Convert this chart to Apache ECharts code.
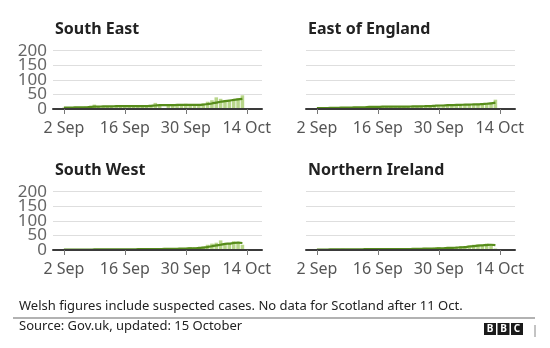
<!DOCTYPE html>
<html>
<head>
<meta charset="utf-8">
<script src="https://cdn.jsdelivr.net/npm/echarts@6/dist/echarts.min.js"></script>
<style>
  html, body { margin: 0; padding: 0; background: #fff; }
  #chart { width: 550px; height: 348px; }
</style>
</head>
<body>
<div id="chart"></div>
<script>
// Days shown on each panel's axis (data runs 2 Sep - 13 Oct)
const days = [
  '31 Aug', '1 Sep', '2 Sep', '3 Sep', '4 Sep', '5 Sep', '6 Sep', '7 Sep', '8 Sep', '9 Sep',
  '10 Sep', '11 Sep', '12 Sep', '13 Sep', '14 Sep', '15 Sep', '16 Sep', '17 Sep', '18 Sep',
  '19 Sep', '20 Sep', '21 Sep', '22 Sep', '23 Sep', '24 Sep', '25 Sep', '26 Sep', '27 Sep',
  '28 Sep', '29 Sep', '30 Sep', '1 Oct', '2 Oct', '3 Oct', '4 Oct', '5 Oct', '6 Oct', '7 Oct',
  '8 Oct', '9 Oct', '10 Oct', '11 Oct', '12 Oct', '13 Oct', '14 Oct', '15 Oct', '16 Oct', '17 Oct'
];
const tickLabels = ['2 Sep', '16 Sep', '30 Sep', '14 Oct'];
const yTicks = [0, 50, 100, 150, 200];
const regions = ['South East', 'East of England', 'South West', 'Northern Ireland'];

// Daily figures from 2 Sep to 13 Oct
const southEastDaily = [5, 6, 4, 7, 6, 8, 7, 15, 9, 8, 10, 9, 11, 10, 12, 9, 8, 10, 11, 9, 12, 21, 14, 3, 12, 13, 15, 12, 18,
  13, 11, 14, 19, 25, 30, 40, 35, 31, 30, 33, 37, 47];
const southEastAvg = [5, 5, 5, 6, 6, 6, 7, 8, 8, 9, 9, 9, 10, 10, 10, 10, 10, 10, 10, 10, 11, 12, 13, 13, 13, 13, 14, 14, 14,
  14, 14, 14, 15, 17, 19, 22, 25, 27, 29, 31, 33, 35];

const eastDaily = [3, 2, 4, 3, 4, 5, 4, 5, 6, 5, 6, 7, 8, 7, 9, 8, 7, 8, 6, 7, 9, 10, 8, 9, 11, 10, 12, 13, 12,
  14, 13, 15, 14, 16, 15, 17, 16, 18, 17, 19, 22, 32];
const eastAvg = [3, 3, 3, 4, 4, 4, 5, 5, 5, 6, 6, 6, 7, 7, 7, 8, 8, 8, 8, 8, 8, 8, 9, 9, 9, 10, 10, 11, 12,
  12, 13, 13, 14, 14, 15, 15, 16, 16, 17, 18, 19, 22];

const southWestDaily = [1, 1, 0, 1, 2, 1, 2, 1, 2, 3, 2, 2, 3, 2, 2, 3, 2, 3, 4, 3, 4, 5, 4, 5, 6, 5, 4, 6, 7,
  10, 9, 7, 12, 18, 22, 25, 33, 24, 23, 30, 28, 18];
const southWestAvg = [1, 1, 1, 1, 1, 1, 1, 2, 2, 2, 2, 2, 2, 2, 2, 2, 2, 3, 3, 3, 3, 3, 3, 4, 4, 4, 4, 5, 5,
  6, 6, 7, 8, 10, 13, 16, 18, 21, 22, 24, 25, 24];

const niDaily = [1, 1, 2, 1, 3, 2, 4, 2, 2, 3, 2, 3, 2, 3, 4, 3, 2, 3, 2, 4, 3, 5, 4, 6, 5, 7, 6, 8, 10,
  7, 8, 9, 10, 13, 11, 16, 18, 19, 17, 22, 18, 5];
const niAvg = [1, 1, 1, 2, 2, 2, 2, 2, 2, 2, 2, 3, 3, 3, 3, 3, 3, 3, 3, 3, 3, 3, 4, 4, 4, 5, 5, 5, 6,
  6, 7, 7, 8, 9, 10, 12, 13, 15, 16, 17, 18, 17, null];

const dailySets = [southEastDaily, eastDaily, southWestDaily, niDaily];
const avgSets = [southEastAvg, eastAvg, southWestAvg, niAvg];

const FONT = '"Noto Sans", "DejaVu Sans", sans-serif';
const BAR = '#b8d68a';
const LINE = '#568c1a';

// Panel layout: two columns, two rows
const cols = [53, 306];
const rows = [50.7, 191.7];
const panelW = 209, panelH = 58.3;

const offset = days.indexOf('2 Sep');
const pad = arr => new Array(offset).fill(null).concat(arr);
const isTick = (i, v) => tickLabels.indexOf(v) !== -1;
const yMin = yTicks[0], yMax = yTicks[yTicks.length - 1];
const yLabelStyle = { color: '#666', fontSize: 17, fontFamily: FONT, margin: 6 };

const grids = [], xAxes = [], yAxes = [], series = [], titles = [];
regions.forEach((name, i) => {
  const left = cols[i % 2], top = rows[Math.floor(i / 2)];
  const showLabels = i % 2 === 0;
  grids.push({ left: left, top: top, width: panelW, height: panelH });
  xAxes.push({
    type: 'category', gridIndex: i, data: days, boundaryGap: true,
    axisLine: { show: true, lineStyle: { color: '#3a3a3a', width: 2 } },
    axisTick: { show: true, alignWithLabel: true, interval: isTick, length: 5, lineStyle: { color: '#777', width: 1 } },
    axisLabel: { interval: isTick, color: '#555', fontSize: 16, fontFamily: FONT, margin: 11 },
    splitLine: { show: false }, z: 5
  });
  // main value axis: gridlines every 50, labels at 0 / 100 / 200
  const yIndex = yAxes.length;
  yAxes.push({
    type: 'value', gridIndex: i, position: 'left', min: yMin, max: yMax, interval: 50,
    axisLine: { show: false }, axisTick: { show: false },
    axisLabel: Object.assign({
      show: showLabels, showMinLabel: true, showMaxLabel: true,
      formatter: v => (v % 100 === 0 ? String(v) : '')
    }, yLabelStyle),
    splitLine: { show: true, lineStyle: { color: '#dedede', width: 1 } }
  });
  if (showLabels) {
    // companion axis on the same side carrying the in-between labels (50 / 150)
    yAxes.push({
      type: 'value', gridIndex: i, position: 'left', offset: 0, min: yMin, max: yMax, interval: 50,
      axisLine: { show: false }, axisTick: { show: false }, splitLine: { show: false },
      axisLabel: Object.assign({
        showMinLabel: true, showMaxLabel: true,
        formatter: v => (v % 100 !== 0 ? String(v) : '')
      }, yLabelStyle)
    });
  }
  series.push({
    type: 'bar', xAxisIndex: i, yAxisIndex: yIndex, data: pad(dailySets[i]),
    barCategoryGap: '18%', itemStyle: { color: BAR }, silent: true, z: 2
  });
  series.push({
    type: 'line', xAxisIndex: i, yAxisIndex: yIndex, data: pad(avgSets[i]),
    showSymbol: false, smooth: 0.3, lineStyle: { color: LINE, width: 2.2 }, silent: true, z: 3
  });
  titles.push({
    text: name, left: left + 2, top: top - 29, padding: 0,
    textStyle: { fontSize: 16, fontWeight: 'bold', color: '#222', fontFamily: FONT }
  });
});

const chart = echarts.init(document.getElementById('chart'), null, { renderer: 'canvas' });
chart.setOption({
  animation: false,
  title: titles,
  grid: grids,
  xAxis: xAxes,
  yAxis: yAxes,
  series: series,
  graphic: [
    { type: 'text', left: 19, top: 300, style: { text: 'Welsh figures include suspected cases. No data for Scotland after 11 Oct.', fill: '#222', font: '13px ' + FONT } },
    { type: 'line', shape: { x1: 13, y1: 318, x2: 535, y2: 318 }, style: { stroke: '#999', lineWidth: 1.5 } },
    { type: 'text', left: 19, top: 320, style: { text: 'Source: Gov.uk, updated: 15 October', fill: '#222', font: '13px ' + FONT } },
    // BBC blocks
    { type: 'rect', shape: { x: 484, y: 323, width: 12, height: 12 }, style: { fill: '#1a1a1a' } },
    { type: 'rect', shape: { x: 497.5, y: 323, width: 12, height: 12 }, style: { fill: '#1a1a1a' } },
    { type: 'rect', shape: { x: 511, y: 323, width: 12, height: 12 }, style: { fill: '#1a1a1a' } },
    { type: 'text', x: 490, y: 329.5, style: { text: 'B', fill: '#fff', font: 'bold 10px ' + FONT, align: 'center', verticalAlign: 'middle' } },
    { type: 'text', x: 503.5, y: 329.5, style: { text: 'B', fill: '#fff', font: 'bold 10px ' + FONT, align: 'center', verticalAlign: 'middle' } },
    { type: 'text', x: 517, y: 329.5, style: { text: 'C', fill: '#fff', font: 'bold 10px ' + FONT, align: 'center', verticalAlign: 'middle' } },
    { type: 'line', shape: { x1: 535, y1: 325, x2: 535, y2: 337 }, style: { stroke: '#888', lineWidth: 1 } }
  ]
});
</script>
</body>
</html>
